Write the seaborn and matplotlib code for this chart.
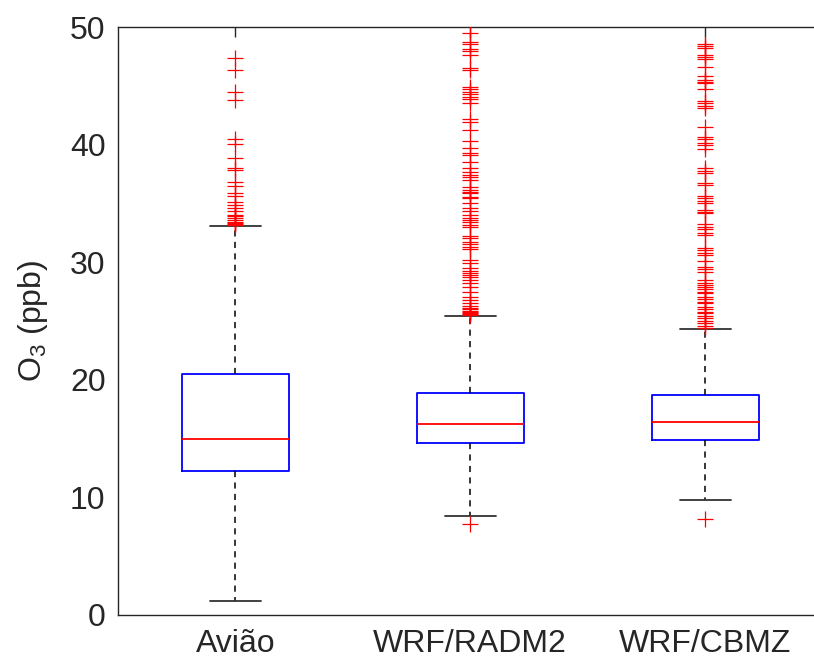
import numpy as np
import pandas as pd
import matplotlib
matplotlib.use("Agg")
import matplotlib.pyplot as plt
import seaborn as sns

categories = ["Avião", "WRF/RADM2", "WRF/CBMZ"]
q1 = [12.24, 14.65, 14.90]
median = [15.00, 16.27, 16.39]
q3 = [20.50, 18.90, 18.70]
whisker_low = [1.16, 8.42, 9.80]
whisker_high = [33.08, 25.45, 24.32]

fliers_aviao = [47.34, 46.34, 44.45, 43.79, 40.48, 40.08, 38.86, 37.98, 37.81,
                36.79, 36.51, 35.86, 35.65, 35.09, 34.84, 34.58, 34.33, 34.04,
                33.90, 33.73, 33.60, 33.44, 33.31, 33.22, 33.15]
fliers_radm2 = [49.46, 48.70, 48.55, 48.13, 47.99, 47.65, 46.49, 46.34, 44.93,
                44.73, 44.50, 44.30, 44.08, 43.85, 43.57, 42.18, 41.95, 41.24,
                40.33, 39.74, 39.26, 39.12, 38.55, 37.98, 37.70, 37.41, 37.22,
                36.99, 36.42, 36.14, 36.00, 35.86, 35.57, 35.43, 35.01, 34.58,
                34.35, 34.01, 33.79, 33.59, 33.39, 33.16, 32.97, 32.23, 32.03,
                31.75, 31.55, 31.32, 31.09, 30.19, 29.90, 29.48, 29.28, 29.11,
                28.91, 28.71, 28.49, 28.26, 27.92, 27.49, 27.07, 26.79, 26.56,
                26.28, 26.08, 25.98, 25.88, 25.78, 25.65, 25.58, 25.51, 7.74]
fliers_cbmz = [48.55, 48.38, 48.19, 47.62, 47.42, 47.25, 46.63, 45.83, 45.49,
               45.35, 45.21, 44.70, 43.71, 43.51, 43.28, 43.14, 41.47, 40.62,
               40.45, 40.16, 39.97, 39.60, 37.98, 37.78, 37.61, 36.76, 36.56,
               35.66, 35.43, 35.23, 35.01, 34.44, 34.30, 34.16, 33.25, 33.02,
               32.80, 32.45, 32.31, 31.18, 31.04, 30.81, 30.61, 30.13, 29.62,
               29.40, 29.19, 28.49, 28.26, 28.06, 27.92, 27.69, 27.49, 27.36,
               27.07, 26.84, 26.64, 26.50, 26.22, 25.99, 25.79, 25.65, 25.43,
               25.23, 25.03, 24.80, 24.57, 24.43, 8.14]
yticks = [0, 10, 20, 30, 40, 50]

sns.set_theme(style="white")
plt.rcParams["font.family"] = ["Liberation Sans", "DejaVu Sans"]
plt.rcParams["mathtext.default"] = "regular"
plt.rcParams["mathtext.fontset"] = "custom"
plt.rcParams["mathtext.rm"] = "Liberation Sans"

fig = plt.figure(figsize=(8.14, 6.60), dpi=100)
ax = fig.add_axes([118 / 814, 45 / 660, (822.5 - 118) / 814, 588 / 660])

fl = pd.DataFrame({
    "cat": [categories[0]] * len(fliers_aviao) + [categories[1]] * len(fliers_radm2)
           + [categories[2]] * len(fliers_cbmz),
    "val": fliers_aviao + fliers_radm2 + fliers_cbmz,
})

stats = []
for i, c in enumerate(categories):
    stats.append(dict(label=c, q1=q1[i], med=median[i], q3=q3[i],
                      whislo=whisker_low[i], whishi=whisker_high[i], fliers=[]))

ax.bxp(stats, positions=[0, 1, 2], widths=0.455, capwidths=0.217,
       showfliers=False,
       boxprops=dict(color="#0000ff", linewidth=1.3),
       medianprops=dict(color="#ff0000", linewidth=1.3),
       whiskerprops=dict(color="#000000", linewidth=1.1, linestyle=(0, (4, 3.5))),
       capprops=dict(color="#333333", linewidth=1.3))

sns.stripplot(data=fl, x="cat", y="val", order=categories, jitter=False,
              marker="+", color="#ff0000", size=12, linewidth=0.9, ax=ax,
              zorder=3)

ax.set_xlim(-0.5, 2.5)
ax.set_ylim(0, 50)
ax.set_yticks(yticks)
ax.set_xticks([0, 1, 2])
ax.set_xticklabels(categories)
ax.set_xlabel("")
ax.set_ylabel("O$_3$ (ppb)", fontsize=23, color="#262626", labelpad=14)
ax.tick_params(axis="both", direction="in", length=7, width=1, color="#262626",
               labelsize=23, labelcolor="#262626", top=True, right=False)
ax.tick_params(axis="x", pad=10)
ax.tick_params(axis="y", pad=9)
for s in ax.spines.values():
    s.set_visible(True)
    s.set_color("#262626")
    s.set_linewidth(1.0)

fig.savefig("out.png", dpi=100)
